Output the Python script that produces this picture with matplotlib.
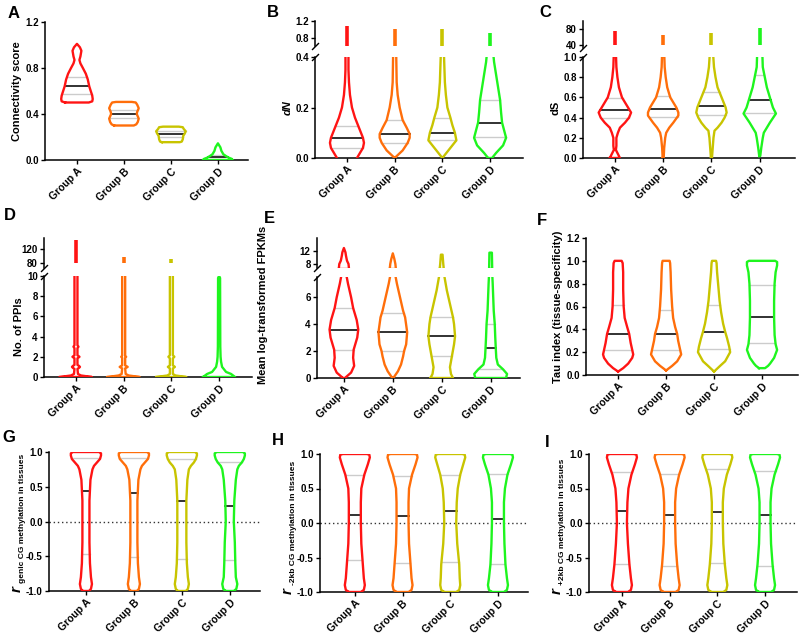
import numpy as np
import matplotlib
matplotlib.use('Agg')
import matplotlib.pyplot as plt

plt.rcParams['font.family'] = ['Liberation Sans', 'DejaVu Sans']
plt.rcParams['font.weight'] = 'bold'
plt.rcParams['axes.labelweight'] = 'bold'

groups = ['Group A', 'Group B', 'Group C', 'Group D']
colors = ['#FF1414', '#FF6E0A', '#C8C400', '#1EF51E']

# violin outlines: y levels and half widths (pixels)
A_y = [[0.50, 0.51, 0.53, 0.56, 0.60, 0.64, 0.70, 0.75, 0.80, 0.84, 0.87, 0.90, 0.95, 0.98, 1.01],
       [0.30, 0.31, 0.33, 0.36, 0.38, 0.40, 0.42, 0.45, 0.48, 0.50, 0.505],
       [0.155, 0.16, 0.18, 0.21, 0.23, 0.25, 0.27, 0.285, 0.29],
       [0.0, 0.01, 0.02, 0.035, 0.05, 0.08, 0.11, 0.145]]
A_w = [[12, 15.5, 16, 15.5, 14, 12.5, 11, 9, 6, 3.5, 2.5, 3.5, 4.5, 3, 0],
       [10, 12.5, 14, 15, 14, 13, 13.5, 15, 13.5, 12, 8],
       [9, 11, 12, 12.5, 14, 15, 13, 12, 8],
       [15, 14, 11, 8, 5.5, 3.5, 2.5, 0]]
A_med = [0.64, 0.40, 0.223, 0.025]
A_q1 = [0.57, 0.365, 0.203, 0.01]
A_q3 = [0.72, 0.435, 0.252, 0.04]

B_y = [[-0.01, 0.0, 0.02, 0.04, 0.06, 0.08, 0.10, 0.13, 0.16, 0.20, 0.25, 0.30, 0.35, 0.42],
       [0.0, 0.03, 0.06, 0.08, 0.095, 0.12, 0.15, 0.20, 0.25, 0.30, 0.42],
       [0.0, 0.03, 0.05, 0.07, 0.10, 0.13, 0.16, 0.20, 0.25, 0.30, 0.42],
       [0.0, 0.02, 0.05, 0.08, 0.11, 0.14, 0.18, 0.23, 0.28, 0.33, 0.38, 0.42]]
B_w = [[10, 10, 13, 16, 17, 16, 14, 11, 8, 5, 3, 2, 1.5, 1.5],
       [0, 8, 13, 15, 15, 12, 8, 5, 3, 2, 1.5],
       [0, 6, 10, 14, 12.5, 10, 8, 5, 3.5, 2.5, 1.5],
       [2, 6, 13, 16, 14, 12, 11, 10, 8, 6, 4, 3]]
B_med = [0.08, 0.095, 0.10, 0.14]
B_q1 = [0.04, 0.06, 0.07, 0.085]
B_q3 = [0.125, 0.15, 0.16, 0.23]
B_top = [1.08, 1.01, 1.01, 0.92]

C_y = [[0.0, 0.04, 0.08, 0.12, 0.2, 0.25, 0.3, 0.35, 0.4, 0.45, 0.5, 0.55, 0.6, 0.7, 0.8, 0.9, 1.05],
       [0.0, 0.1, 0.2, 0.25, 0.3, 0.35, 0.42, 0.45, 0.5, 0.55, 0.6, 0.7, 0.8, 0.9, 1.05],
       [0.0, 0.2, 0.27, 0.3, 0.35, 0.4, 0.45, 0.5, 0.6, 0.7, 0.8, 0.9, 1.05],
       [0.02, 0.1, 0.2, 0.25, 0.3, 0.35, 0.44, 0.5, 0.6, 0.7, 0.8, 0.9, 1.05]]
C_w = [[5, 3, 1, 1.5, 1.5, 3, 5, 10, 14, 16, 13, 10, 7, 4, 2.5, 1.5, 1],
       [0.5, 1, 2, 3, 6, 10, 15, 15, 13, 10, 7, 4, 2.5, 1.5, 1],
       [0.5, 2, 3, 6, 10, 13, 15, 14, 10, 6, 4, 2.5, 1.5],
       [0.5, 1.5, 3, 4, 7, 10, 16, 13, 10, 7, 5, 3, 2.5]]
C_med = [0.48, 0.49, 0.51, 0.57]
C_q1 = [0.40, 0.41, 0.43, 0.45]
C_q3 = [0.59, 0.61, 0.65, 0.82]
C_top = [77, 65, 72, 84]

D_y = [[0, 0.15, 0.3, 0.8, 0.9, 1.0, 1.1, 1.2, 1.85, 2.0, 2.15, 2.85, 3.0, 3.15, 10.5],
       [0, 0.15, 0.3, 0.85, 1.0, 1.15, 1.9, 2.0, 2.1, 10.5],
       [0, 0.15, 0.3, 0.85, 1.0, 1.15, 1.85, 2.0, 2.15, 10.5],
       [0, 0.3, 0.5, 1.0, 1.5, 2.0, 3.0, 9.8, 10.0]]
D_w = [[16, 5, 2, 1.5, 3, 4, 3, 1.5, 1.5, 3.5, 1.5, 1.5, 2.5, 1.5, 1.5],
       [16, 5, 2, 1.5, 4, 1.5, 1.5, 2.5, 1.5, 1.5],
       [15, 4, 1.5, 1.5, 3.5, 1.5, 1.5, 3, 1.5, 1.5],
       [16, 12, 7, 3, 2, 1.5, 1.2, 1, 0]]
D_top = [146, 97, 91, None]

E_y = [[0, 0.4, 0.9, 1.5, 2.1, 3.0, 3.6, 4.3, 5.2, 6.0, 7.0, 7.8],
       [0, 0.5, 1.0, 1.6, 2.0, 2.5, 3.4, 4.5, 5.0, 6.0, 7.0, 7.8],
       [0, 0.3, 0.8, 1.65, 2.5, 3.1, 4.0, 4.5, 5.5, 6.5, 7.8],
       [0, 0.3, 0.65, 1.0, 1.5, 2.2, 3.0, 4.0, 5.0, 6.0, 7.0, 7.8]]
E_w = [[1, 7, 10, 9, 9.5, 13, 14, 12.5, 9, 7, 4, 2],
       [0.5, 5, 8, 10, 11, 13, 14, 12, 10, 7, 4, 2],
       [11, 9, 8, 10, 12, 13, 12, 11, 8, 5, 2],
       [15, 16, 12, 7, 5.5, 5, 4.5, 4, 3, 2.5, 2, 1.5]]
E_med = [3.6, 3.4, 3.1, 2.2]
E_q1 = [2.1, 2.0, 1.65, 0.65]
E_q3 = [5.2, 4.8, 4.5, 4.0]
E_up_y = [[6.5, 8.0, 9.0, 10.5, 11.5, 12.8],
          [6.5, 8.0, 9.5, 11.2],
          [6.5, 8.0, 10.8],
          [6.5, 11.4]]
E_up_w = [[5, 4.5, 3, 2, 1.5, 0],
          [3, 2.5, 1.5, 0],
          [2, 1.5, 0.8],
          [1.5, 1.2]]

F_y = [[0.03, 0.06, 0.10, 0.15, 0.18, 0.22, 0.28, 0.36, 0.42, 0.50, 0.60, 0.75, 0.90, 0.98, 1.0],
       [0.04, 0.08, 0.12, 0.18, 0.22, 0.30, 0.36, 0.42, 0.50, 0.60, 0.75, 0.90, 0.98, 1.0],
       [0.03, 0.08, 0.12, 0.20, 0.25, 0.32, 0.38, 0.45, 0.55, 0.65, 0.80, 0.90, 0.98, 1.0],
       [0.06, 0.08, 0.10, 0.15, 0.22, 0.27, 0.35, 0.50, 0.65, 0.80, 0.90, 0.96, 0.99, 1.0]]
F_w = [[0, 5, 10, 14, 15, 14, 12.5, 11, 9, 6.5, 5.5, 5, 5, 4.5, 3.5],
       [0, 6, 11, 15, 14, 12, 11, 9, 7, 6, 5, 4.5, 4, 3.5],
       [0, 6, 11, 16, 15, 13, 11, 9, 7, 5.5, 4, 3, 2.5, 2],
       [3, 6, 8, 12, 15, 13.5, 12.5, 12, 12, 12.5, 13.5, 15, 15, 13]]
F_med = [0.36, 0.36, 0.38, 0.51]
F_q1 = [0.22, 0.22, 0.23, 0.28]
F_q3 = [0.61, 0.57, 0.61, 0.79]

G_y = [-1.0, -0.97, -0.9, -0.8, -0.6, -0.3, 0.0, 0.3, 0.6, 0.75, 0.8, 0.85, 0.9, 0.95, 0.98, 1.0]
G_w = [[3, 5, 6, 5, 4, 3.5, 3.5, 3.5, 4.5, 6.5, 8, 11, 14, 15, 15, 13],
       [3, 5, 6, 5, 4, 3.5, 3.5, 3.5, 4.5, 6.5, 8, 11, 14, 15, 15, 13],
       [4, 6, 7, 6, 5, 4.5, 4.5, 4.5, 5.5, 7, 9, 12, 14, 15, 15, 13],
       [4, 6.5, 7.5, 6, 5.5, 5, 4, 4.5, 6, 7.5, 9, 12, 14, 15, 15, 13]]
G_med = [0.44, 0.41, 0.30, 0.23]
G_q1 = [-0.47, -0.51, -0.54, -0.56]
G_q3 = [0.91, 0.92, 0.90, 0.86]

H_y = [-1.0, -0.97, -0.9, -0.8, -0.6, -0.3, 0.0, 0.3, 0.5, 0.7, 0.85, 0.95, 0.99, 1.0]
H_w = [[6, 9, 10, 9, 8, 6.5, 6, 6, 6.5, 9.5, 13, 15, 14.5, 12],
       [6, 9, 10, 9, 8, 6.5, 6, 6, 6.5, 9.5, 13, 15, 14.5, 12],
       [6, 9, 10, 9.5, 9, 7, 6, 6.5, 7.5, 10, 13, 15, 14.5, 12],
       [6, 9, 10, 9, 7.5, 6.5, 6, 6, 7, 9.5, 13, 15, 14.5, 12]]
H_med = [0.12, 0.10, 0.17, 0.06]
H_q1 = [-0.53, -0.58, -0.56, -0.60]
H_q3 = [0.70, 0.68, 0.70, 0.71]

I_w = [[6, 9, 10, 9, 7.5, 6, 5, 5.5, 6.5, 9.5, 13, 15, 14.5, 12],
       [6, 9, 10, 9, 7.5, 6, 5.5, 5.5, 6.5, 9.5, 13, 15, 14.5, 12],
       [6, 9, 10, 9, 7.5, 6, 5.5, 5.5, 6.5, 9.5, 13, 15, 14.5, 12],
       [6, 9, 10, 9, 7.5, 6, 5.5, 5.5, 6.5, 9.5, 13, 15, 14.5, 12]]
I_med = [0.18, 0.12, 0.16, 0.11]
I_q1 = [-0.59, -0.62, -0.58, -0.62]
I_q3 = [0.74, 0.71, 0.78, 0.76]

PX_PER_GROUP = 47.7
W, H = 800, 636
fig = plt.figure(figsize=(8, 6.36), dpi=100)


def px_axes(l, t, r, b):
    return fig.add_axes([l / W, 1 - b / H, (r - l) / W, (b - t) / H])


def style(ax, xlim):
    ax.set_xlim(*xlim)
    for s in ['top', 'right']:
        ax.spines[s].set_visible(False)
    for s in ['left', 'bottom']:
        ax.spines[s].set_linewidth(1.1)
    ax.tick_params(direction='out', length=3, width=1, labelsize=7, pad=1.5)


def violin(ax, x, ys, ws, color):
    ys = np.asarray(ys, float)
    ws = np.asarray(ws, float) / PX_PER_GROUP
    xs = np.concatenate([x - ws, (x + ws)[::-1], [x - ws[0]]])
    yy = np.concatenate([ys, ys[::-1], [ys[0]]])
    ax.plot(xs, yy, color=color, lw=1.7, solid_joinstyle='round', zorder=3)


def stat_lines(ax, x, ys, ws, med, q1, q3):
    for v, c, lw in [(q1, '#CCCCCC', 1.0), (q3, '#CCCCCC', 1.0), (med, '#222222', 1.3)]:
        hw = np.interp(v, ys, ws) / PX_PER_GROUP
        ax.plot([x - hw, x + hw], [v, v], color=c, lw=lw, zorder=2)


def group_ticks(ax):
    ax.set_xticks(range(4))
    ax.set_xticklabels(groups, rotation=45, ha='right', rotation_mode='anchor', fontsize=7.5)


def break_marks(low, up):
    kw = dict(marker=[(-1, -1), (1, 1)], markersize=5, linestyle='none',
              color='k', mec='k', mew=1, clip_on=False)
    low.plot([0], [1], transform=low.transAxes, **kw)
    up.plot([0], [0], transform=up.transAxes, **kw)
    up.spines['bottom'].set_visible(False)
    up.set_xticks([])


def r_label(xr, ybot, sub):
    # big italic r with a small subscript running up the axis
    fig.text(xr / W, 1 - ybot / H, 'r', rotation=90, style='italic', fontsize=11,
             fontweight='bold', ha='center', va='bottom')
    fig.text((xr + 5.5) / W, 1 - (ybot - 9) / H, sub, rotation=90, fontsize=6,
             fontweight='bold', ha='center', va='bottom')


def simple_panel(box, xlim, ys_list, ws_list, med, q1, q3, ylim, yticks, fmt, ylabel=None,
                 zero=False):
    ax = px_axes(*box)
    style(ax, xlim)
    for i in range(4):
        ys = ys_list[i] if isinstance(ys_list[0], list) else ys_list
        stat_lines(ax, i, ys, ws_list[i], med[i], q1[i], q3[i])
        violin(ax, i, ys, ws_list[i], colors[i])
    if zero:
        ax.axhline(0, ls=(0, (1, 2)), color='#333333', lw=1, zorder=1)
    ax.set_ylim(*ylim)
    ax.set_yticks(yticks)
    ax.set_yticklabels([fmt.format(v) for v in yticks])
    group_ticks(ax)
    if ylabel:
        ax.set_ylabel(ylabel, fontsize=8, labelpad=2)
    return ax


def broken_panel(box, up_box, xlim, ys_list, ws_list, med, q1, q3, ylim, yticks, fmt,
                 up_ylim, up_ticks, up_fmt, ylabel, up_from=None, tops=None,
                 up_ys=None, up_ws=None, label_style='normal', label_xy=None):
    low = px_axes(*box)
    up = px_axes(*up_box)
    style(low, xlim)
    style(up, xlim)
    for i in range(4):
        if med is not None:
            stat_lines(low, i, ys_list[i], ws_list[i], med[i], q1[i], q3[i])
        violin(low, i, ys_list[i], ws_list[i], colors[i])
        if tops is not None and tops[i] is not None:
            up.plot([i, i], [up_from, tops[i]], color=colors[i], lw=2.6, solid_capstyle='butt')
        if up_ys is not None:
            violin(up, i, up_ys[i], up_ws[i], colors[i])
    low.set_ylim(*ylim)
    low.set_yticks(yticks)
    low.set_yticklabels([fmt.format(v) for v in yticks])
    up.set_ylim(*up_ylim)
    up.set_yticks(up_ticks)
    up.set_yticklabels([up_fmt.format(v) for v in up_ticks])
    group_ticks(low)
    break_marks(low, up)
    low.set_ylabel(ylabel, fontsize=8, labelpad=2, style=label_style)
    if label_xy is not None:
        low.yaxis.set_label_coords(*label_xy)
    return low, up


# A
simple_panel((45, 22, 248, 160), (-0.68, 3.64), A_y, A_w, A_med, A_q1, A_q3,
             (0, 1.2), [0, 0.4, 0.8, 1.2], '{:.1f}', 'Connectivity score')

# B
broken_panel((315, 57, 523, 158), (315, 21, 523, 46), (-0.67, 3.69), B_y, B_w,
             B_med, B_q1, B_q3, (0, 0.4), [0, 0.2, 0.4], '{:.1f}',
             (0.6, 1.2), [0.8, 1.2], '{:.1f}', 'dN', up_from=0.6, tops=B_top,
             label_style='italic')

# C
broken_panel((583, 57, 795, 158), (583, 21, 795, 48), (-0.66, 3.73), C_y, C_w,
             C_med, C_q1, C_q3, (0, 1.0), [0, 0.2, 0.4, 0.6, 0.8, 1.0], '{:.1f}',
             (32, 102), [40, 80], '{:.0f}', 'dS', up_from=40, tops=C_top)

# D
broken_panel((44, 276, 252, 377), (44, 238, 252, 268), (-0.67, 3.69), D_y, D_w,
             None, None, None, (0, 10), [0, 2, 4, 6, 8, 10], '{:.0f}',
             (65, 151), [80, 120], '{:.0f}', 'No. of PPIs', up_from=80, tops=D_top)

# E
broken_panel((317, 277, 520, 378), (317, 238, 520, 268), (-0.55, 3.6), E_y, E_w,
             E_med, E_q1, E_q3, (0, 7.5), [0, 2, 4, 6], '{:.0f}',
             (6.8, 15.8), [8, 12], '{:.0f}', 'Mean log-transformed FPKMs',
             up_ys=E_up_y, up_ws=E_up_w, label_xy=(-0.24, 0.72))

# F
simple_panel((586, 238, 798, 375), (-0.67, 3.75), F_y, F_w, F_med, F_q1, F_q3,
             (0, 1.2), [0, 0.2, 0.4, 0.6, 0.8, 1.0, 1.2], '{:.1f}',
             'Tau index (tissue-specificity)')

# G, H, I
r_ticks = [-1.0, -0.5, 0.0, 0.5, 1.0]
simple_panel((49, 452, 260, 591), (-0.77, 3.63), G_y, G_w, G_med, G_q1, G_q3,
             (-1, 1), r_ticks, '{:.1f}', zero=True)
r_label(17, 592, 'genic CG methylation in tissues')
simple_panel((320, 454, 528, 592), (-0.73, 3.63), H_y, H_w, H_med, H_q1, H_q3,
             (-1, 1), r_ticks, '{:.1f}', zero=True)
r_label(288, 594, '-2kb CG methylation in tissues')
simple_panel((589, 454, 797, 592), (-0.69, 3.67), H_y, I_w, I_med, I_q1, I_q3,
             (-1, 1), r_ticks, '{:.1f}', zero=True)
r_label(557, 594, '+2kb CG methylation in tissues')

# panel letters
for letter, (lx, ly) in zip('ABCDEFGHI', [(8, 6), (267, 5), (539, 5), (4, 208), (264, 211),
                                         (537, 213), (2, 430), (272, 433), (545, 435)]):
    fig.text(lx / W, 1 - ly / H, letter, fontsize=12, fontweight='bold', ha='left', va='top')

fig.savefig('out.png', dpi=100)
